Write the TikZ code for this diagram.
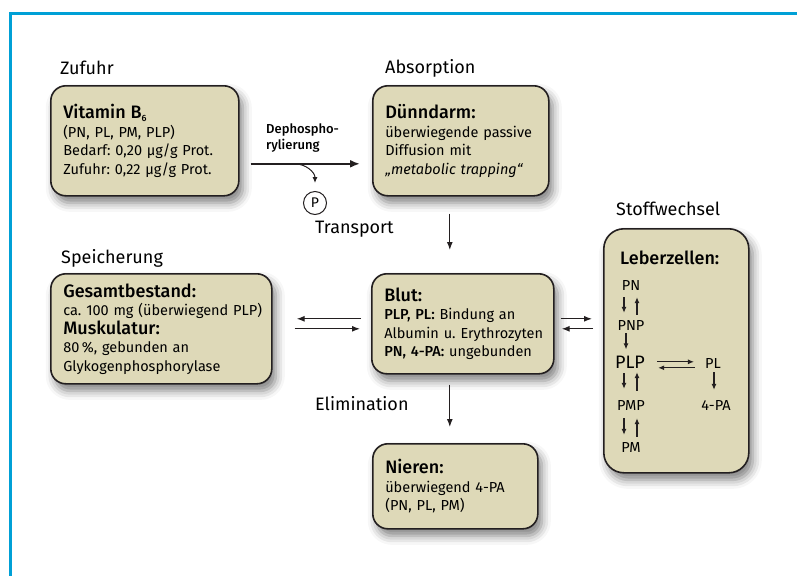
\documentclass[tikz,border=0pt]{standalone}
\usepackage{fontspec}
\setmainfont{Fira Sans}[BoldFont={Fira Sans Medium}]
\usetikzlibrary{arrows.meta,calc,shadows.blur}
\frenchspacing

\definecolor{rahmenblau}{RGB}{0,160,214}
\definecolor{kastenbeige}{RGB}{222,217,184}
\definecolor{kante}{RGB}{35,31,32}

\newcommand{\kopf}{\fontsize{18}{18.5}\selectfont\bfseries}
\newcommand{\tief}[1]{\raisebox{-2.5pt}{\fontsize{9}{9}\selectfont #1}}

\begin{document}
\begin{tikzpicture}[x=1pt,y=-1pt,
    box/.style={draw=kante, line width=1.6pt, fill=kastenbeige, rounded corners=15pt,
      anchor=north west, inner xsep=12.5pt, inner ysep=0pt, align=left,
      font=\fontsize{14.5}{18.5}\selectfont,
      blur shadow={shadow xshift=4pt, shadow yshift=-7pt, shadow blur radius=9pt, shadow opacity=50}},
    titel/.style={anchor=base west, inner sep=0pt, font=\fontsize{18}{20}\selectfont},
    pfeil/.style={-{Latex[length=8pt,width=6pt]}, line width=1.2pt, draw=kante},
    dickpfeil/.style={-{Latex[length=10pt,width=8pt]}, line width=2pt, draw=kante},
    kette/.style={-{Latex[length=6pt,width=5pt]}, line width=1.1pt, draw=kante},
    stoff/.style={anchor=base, inner sep=0pt, font=\fontsize{14.5}{16}\selectfont}]

    % Picture size and frame
    \useasboundingbox (0,0) rectangle (797,576);
    \draw[rahmenblau, line width=3pt] (797,13.5) -- (10.5,13.5) -- (10.5,576);

    % Section titles
    \node[titel] (tzufuhr) at (60,74) {Zufuhr};
    \node[titel] (tabsorp) at (385,73) {Absorption};
    \node[titel] (tspeich) at (61,263) {Speicherung};
    \node[titel] (tstoff) at (616,215) {Stoffwechsel};
    \node[titel] (ttrans) at (315,233) {Transport};
    \node[titel] (telim) at (315,410) {Elimination};

    % Boxes
    \node[box, text width=163pt, minimum height=110pt] (vitamin) at (50,85)
      {{\kopf Vitamin B\tief{6}}\\ (PN, PL, PM, PLP)\\ Bedarf: 0,20 µg/g Prot.\\ Zufuhr: 0,22 µg/g Prot.};
    \node[box, text width=151pt, minimum height=110pt] (duenn) at (372,85)
      {{\kopf Dünndarm:}\\ überwiegende passive\\ Diffusion mit\\ \textit{„metabolic trapping“}};
    \node[box, text width=196pt, minimum height=110pt] (speicher) at (50,273)
      {{\kopf Gesamtbestand:}\\ \mbox{ca. 100 mg (überwiegend PLP)}\\ {\kopf Muskulatur:}\\ 80\,\%, gebunden an\\ Glykogenphosphorylase};
    \node[box, text width=157pt, minimum height=100pt] (blut) at (371,273)
      {{\kopf Blut:}\\ \textbf{PLP, PL:} Bindung an\\ \mbox{Albumin u. Erythrozyten}\\ \textbf{PN, 4-PA:} ungebunden};
    \node[box, text width=140pt, minimum height=85pt] (nieren) at (372,443)
      {{\kopf Nieren:}\\ überwiegend 4-PA\\ (PN, PL, PM)};
    \node[box, rounded corners=20pt, minimum width=145pt, minimum height=244pt, inner sep=0pt] (leber) at (603,228) {};

    % Liver cells
    \node[anchor=base west, inner sep=0pt, font=\kopf] (tleber) at (620,264) {Leberzellen:};
    \node[stoff] (pn) at (631,290) {PN};
    \node[stoff] (pnp) at (631,330) {PNP};
    \node[stoff, font=\fontsize{18}{20}\selectfont] (plp) at (630,368) {PLP};
    \node[stoff] (pmp) at (631,410) {PMP};
    \node[stoff] (pm) at (631,452) {PM};
    \node[stoff] (pl) at (713,368) {PL};
    \node[stoff] (pa) at (716,410) {4-PA};

    \draw[kette] ($(pn.south)+(-7,7)$) -- ($(pnp.north)+(-7,-7)$);
    \draw[kette] ($(pnp.north)+(6,-5)$) -- ($(pn.south)+(6,7)$);
    \draw[kette] ($(pnp.south)+(-5,3)$) -- ($(plp.north)+(-4,-6)$);
    \draw[kette] ($(plp.south)+(-6,5)$) -- ($(pmp.north)+(-7,-11)$);
    \draw[kette] ($(pmp.north)+(6,-9)$) -- ($(plp.south)+(7,4)$);
    \draw[kette] ($(pmp.south)+(-7,8)$) -- ($(pm.north)+(-7,-7)$);
    \draw[kette] ($(pm.north)+(6,-5)$) -- ($(pmp.south)+(6,8)$);
    \draw[kette] ($(pl.south)+(1,4)$) -- ($(pa.north)+(-2,-10)$);
    \draw[kette] ($(plp.east)+(12,0)$) -- ($(pl.west |- plp.east)+(-11,0)$);
    \draw[kette] ($(pl.west |- plp.east)+(-10,6)$) -- ($(plp.east)+(13,6)$);

    % Intake to absorption
    \draw[dickpfeil] ($(vitamin.east)+(11,23)$) -- ($(duenn.west)+(-12,23)$);
    \node[anchor=south west, inner sep=0pt, align=left, font=\fontsize{13}{16.5}\selectfont\bfseries] (dephos) at (266,153)
      {Dephospho-\\rylierung};
    \coordinate (abzweig) at ($(vitamin.east)+(55,23)$);
    \node[draw=kante, circle, line width=1pt, minimum size=23pt, inner sep=0pt, font=\fontsize{14}{14}\selectfont] (phos) at (315,203) {P};
    \draw[kette, line width=1pt] (abzweig) to[out=0, in=90] ($(phos.north)+(0,-8)$);

    % Transport and exchange with the blood
    \draw[pfeil] ($(duenn.south)+(-11,17)$) -- ($(blut.north)+(-13,-23)$);
    \draw[pfeil] ($(blut.west)+(-10,-5)$) -- ($(speicher.east)+(24,-10)$);
    \draw[pfeil] ($(speicher.east)+(22,0)$) -- ($(blut.west)+(-11,5)$);
    \draw[pfeil] ($(blut.east)+(6,-5)$) -- ($(leber.west)+(-11,-32)$);
    \draw[pfeil] ($(leber.west)+(-10,-22)$) -- ($(blut.east)+(7,5)$);
    \draw[pfeil] ($(blut.south)+(-13,10)$) -- ($(nieren.north)+(-5.5,-16)$);

\end{tikzpicture}
\end{document}
